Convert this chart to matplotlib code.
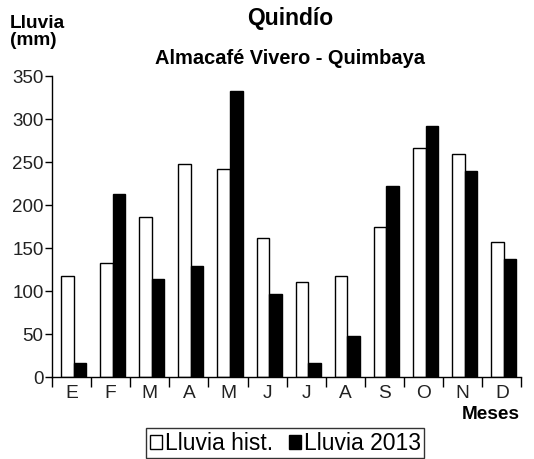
import numpy as np
import matplotlib.pyplot as plt
from matplotlib.patches import Patch

plt.rcParams['font.family'] = ['Liberation Sans', 'DejaVu Sans']

# --- Datos ---
meses = ['E', 'F', 'M', 'A', 'M', 'J', 'J', 'A', 'S', 'O', 'N', 'D']
lluvia_hist = [117, 132, 186, 248, 242, 162, 111, 117, 174, 266, 259, 157]
lluvia_2013 = [16, 213, 114, 129, 333, 96, 16, 48, 222, 292, 239, 137]

x = np.arange(len(meses))
ancho = 0.32

fig = plt.figure(figsize=(5.34, 4.59), dpi=100)
ax = fig.add_axes([0.0974, 0.1786, 0.8790, 0.6558])

ax.bar(x + 0.23, lluvia_hist, width=ancho, align='edge', color='white',
       edgecolor='black', linewidth=1.0)
ax.bar(x + 0.23 + ancho, lluvia_2013, width=ancho, align='edge', color='black',
       edgecolor='black', linewidth=1.0)

ax.set_xlim(0, len(meses))
ax.set_ylim(0, 350)
ax.set_yticks(np.arange(0, 351, 50))

# ticks en los límites de cada mes, etiquetas en el centro
ax.set_xticks(np.arange(len(meses) + 1))
ax.set_xticklabels([])
ax.set_xticks(x + 0.5, minor=True)
ax.set_xticklabels(meses, minor=True)
ax.tick_params(axis='x', which='major', length=7, width=1, direction='out')
ax.tick_params(axis='x', which='minor', length=0, pad=6, labelsize=13.8,
               labelcolor='#222222')
ax.tick_params(axis='y', length=5, width=1, direction='out', pad=1,
               labelsize=13.5, labelcolor='#222222')

for s in ['top', 'right']:
    ax.spines[s].set_visible(False)
for s in ['left', 'bottom']:
    ax.spines[s].set_linewidth(1)

# --- Textos ---
fig.text(0.543, 0.960, 'Quindío', ha='center', va='center',
         fontsize=16.5, fontweight='bold')
fig.text(0.543, 0.873, 'Almacafé Vivero - Quimbaya', ha='center', va='center',
         fontsize=14.4, fontweight='bold')
fig.text(0.019, 0.968, 'Lluvia\n(mm)', ha='left', va='top', fontsize=13.7,
         fontweight='bold', linespacing=1.05)
fig.text(0.974, 0.098, 'Meses', ha='right', va='center', fontsize=13.7,
         fontweight='bold')

handles = [Patch(facecolor='white', edgecolor='black', linewidth=1),
           Patch(facecolor='black', edgecolor='black', linewidth=1)]
leg = fig.legend(handles, ['Lluvia hist.', 'Lluvia 2013'], ncol=2,
                 loc='center', bbox_to_anchor=(0.534, 0.034),
                 fontsize=16.5, frameon=True, fancybox=False, edgecolor='black',
                 handlelength=0.55, handleheight=0.55, handletextpad=0.1,
                 columnspacing=0.7, borderpad=0.15, borderaxespad=0)
leg.get_frame().set_linewidth(1)

fig.savefig('out.png', dpi=100)
